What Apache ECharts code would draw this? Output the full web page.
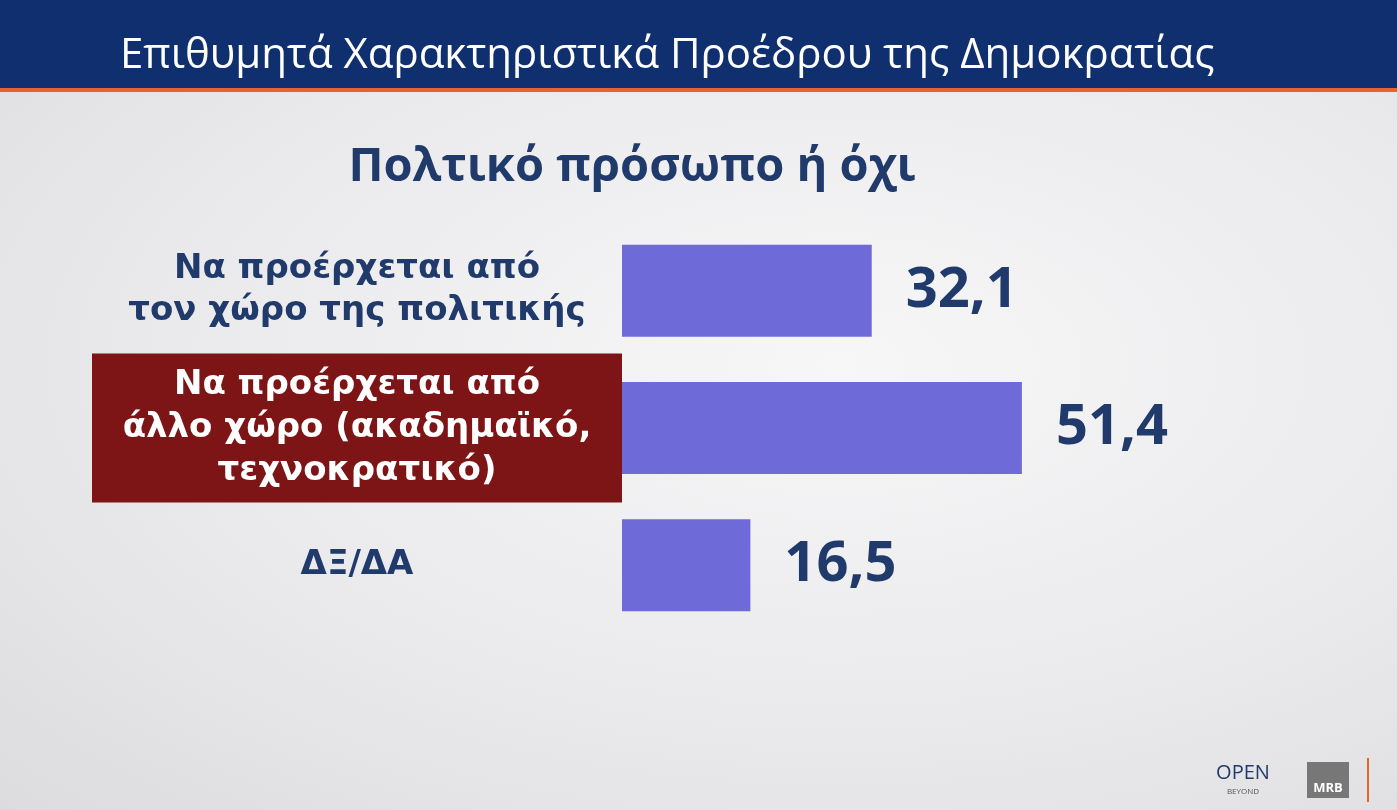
<!DOCTYPE html>
<html><head><meta charset="utf-8">
<script src="https://cdn.jsdelivr.net/npm/echarts@6/dist/echarts.min.js"></script>
<style>html,body{margin:0;padding:0;}#c{width:1397px;height:810px;background:radial-gradient(ellipse at 60% 45%,#f7f7f8 0%,#e9e9eb 60%,#dcdcdf 100%);}</style>
</head><body><div id="c"></div>
<script>
const title = 'Επιθυμητά Χαρακτηριστικά Προέδρου της Δημοκρατίας';
const subtitle = 'Πολτικό πρόσωπο ή όχι';
const categories = ['Να προέρχεται από\nτον χώρο της πολιτικής', 'Να προέρχεται από\nάλλο χώρο (ακαδημαϊκό,\nτεχνοκρατικό)', 'ΔΞ/ΔΑ'];
const values = [32.1, 51.4, 16.5];
const highlighted = 1;
const navy = '#1f3a6b';
const chart = echarts.init(document.getElementById('c'));
chart.setOption({
  animation:false,
  grid:{left:622, top:222, width:778, height:412, outerBoundsMode:'none', containLabel:false},
  xAxis:{type:'value', min:0, max:100, show:false},
  yAxis:{type:'category', inverse:true, data:categories.map((c,i)=>i===highlighted?{value:c,textStyle:{color:'#fff',align:'center',backgroundColor:'#7d1517',width:510,padding:[10,10],lineHeight:43}}:{value:c}),
    axisLine:{show:false}, axisTick:{show:false},
    axisLabel:{margin:265, align:'center', color:navy, fontSize:34, fontWeight:'bold', lineHeight:42, fontFamily:'DejaVu Sans'}},
  series:[{type:'bar', data:values, barWidth:92, itemStyle:{color:'#6e6bd8'},
    label:{show:true, position:'right', distance:34, color:navy, fontSize:56, fontWeight:'bold', fontFamily:'Open Sans', formatter:p=>String(p.value).replace('.',',')}}],
  graphic:[
    {type:'rect', shape:{x:0,y:0,width:1397,height:88}, style:{fill:'#0f2f6e'}},
    {type:'rect', shape:{x:0,y:88,width:1397,height:4}, style:{fill:'#e8622b'}},
    {type:'text', left:120, top:35, style:{text:title, fill:'#fff', font:'42px "Open Sans"'}},
    {type:'text', x:632, y:168, style:{text:subtitle, fill:navy, font:'bold 47px "Open Sans"', align:'center', verticalAlign:'middle'}},
    {type:'text', x:1243, y:773, style:{text:'OPEN', fill:'#1f3a6b', font:'20px "Open Sans"', align:'center', verticalAlign:'middle'}},
    {type:'text', x:1243, y:792, style:{text:'BEYOND', fill:'#555', font:'8px "Open Sans"', align:'center', verticalAlign:'middle'}},
    {type:'rect', shape:{x:1307,y:762,width:42,height:36}, style:{fill:'#777'}},
    {type:'text', x:1328, y:788, style:{text:'MRB', fill:'#fff', font:'bold 13px "Open Sans"', align:'center', verticalAlign:'middle'}},
    {type:'rect', shape:{x:1367,y:758,width:2,height:44}, style:{fill:'#e8622b'}}
  ]
});
</script></body></html>
